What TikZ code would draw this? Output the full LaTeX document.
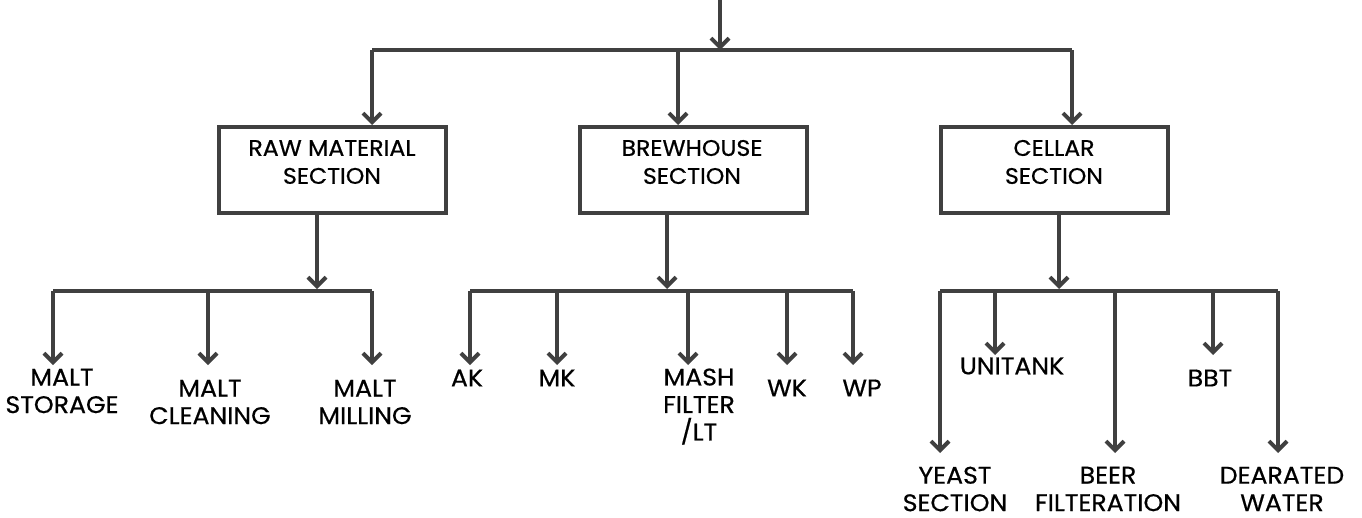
\documentclass[tikz,border=0pt]{standalone}
\usepackage{fontspec}
\setmainfont{Poppins}[FakeStretch=1.05,FakeBold=0.6]
\usetikzlibrary{arrows.meta}
\definecolor{ln}{HTML}{404040}
\tikzset{
  conn/.style={draw=ln,line width=4pt,line cap=butt,line join=miter},
  arr/.style={conn,-{Straight Barb[length=9pt,width=18pt]}},
  secbox/.style={draw=ln,line width=4pt,minimum width=227pt,minimum height=86pt,inner sep=0pt},
  lbl/.style={font=\fontsize{24}{27.5}\selectfont,align=center,inner sep=0pt,text=black},
  boxlbl/.style={lbl,font=\fontsize{22.5}{28}\selectfont},
}
\begin{document}
\begin{tikzpicture}[x=1pt,y=-1pt]
\useasboundingbox (0,0) rectangle (1362,517);
% boxes
\node[secbox] (raw) at (332.5,170) {};
\node[secbox] (brew) at (693,170) {};
\node[secbox] (cell) at (1054,170) {};
\node[boxlbl] (rawt) at (332,162) {RAW MATERIAL\\SECTION};
\node[boxlbl] (brewt) at (692,162) {BREWHOUSE\\SECTION};
\node[boxlbl] (cellt) at (1054,162) {CELLAR\\SECTION};
% top
\coordinate (top) at (720,0);
\coordinate (ta) at (720,50);
\coordinate (tl) at (372,50);
\coordinate (tm) at (678,50);
\coordinate (tr) at (1072,50);
\draw[conn] (tl) -- (tr);
\draw[arr] (top) -- (ta);
\draw[arr] (tl) -- (tl |- raw.north);
\draw[arr] (tm) -- (tm |- brew.north);
\draw[arr] (tr) -- (tr |- cell.north);
% raw group
\coordinate (rs) at (317,0);
\coordinate (rb) at (317,289);
\coordinate (r1) at (53,291);
\coordinate (r2) at (208,291);
\coordinate (r3) at (372,291);
\draw[arr] (rs |- raw.south) -- (rb);
\draw[conn] (r1) -- (r3);
\coordinate (r1e) at (53,365);
\coordinate (r2e) at (208,365);
\coordinate (r3e) at (372,365);
\draw[arr] (r1) -- (r1e);
\draw[arr] (r2) -- (r2e);
\draw[arr] (r3) -- (r3e);
\node[lbl] (ms) at (62,391) {MALT\\STORAGE};
\node[lbl] (mc) at (210,402) {MALT\\CLEANING};
\node[lbl] (mm) at (365,402) {MALT\\MILLING};
% brew group
\coordinate (bs) at (667,0);
\coordinate (bb) at (667,289);
\draw[arr] (bs |- brew.south) -- (bb);
\coordinate (b1) at (470,291);
\coordinate (b2) at (557,291);
\coordinate (b3) at (688,291);
\coordinate (b4) at (787,291);
\coordinate (b5) at (853,291);
\draw[conn] (b1) -- (b5);
\coordinate (b1e) at (470,365);
\coordinate (b2e) at (557,365);
\coordinate (b3e) at (688,365);
\coordinate (b4e) at (787,365);
\coordinate (b5e) at (853,365);
\draw[arr] (b1) -- (b1e);
\draw[arr] (b2) -- (b2e);
\draw[arr] (b3) -- (b3e);
\draw[arr] (b4) -- (b4e);
\draw[arr] (b5) -- (b5e);
\node[lbl] (ak) at (467,378) {AK};
\node[lbl] (mk) at (557,378) {MK};
\node[lbl] (mf) at (699,406.5) {MASH\\FILTER\\/LT};
\node[lbl] (wk) at (787,388) {WK};
\node[lbl] (wp) at (862,388) {WP};
% cellar group
\coordinate (cs) at (1059,0);
\coordinate (cb) at (1059,289);
\draw[arr] (cs |- cell.south) -- (cb);
\coordinate (c1) at (940,291);
\coordinate (c2) at (995,291);
\coordinate (c3) at (1115,291);
\coordinate (c4) at (1213,291);
\coordinate (c5) at (1278,291);
\draw[conn] (c1) -- (c5);
\coordinate (c1e) at (940,453);
\coordinate (c2e) at (995,355);
\coordinate (c3e) at (1115,453);
\coordinate (c4e) at (1213,355);
\coordinate (c5e) at (1278,453);
\draw[arr] (c1) -- (c1e);
\draw[arr] (c2) -- (c2e);
\draw[arr] (c3) -- (c3e);
\draw[arr] (c4) -- (c4e);
\draw[arr] (c5) -- (c5e);
\node[lbl] (un) at (1012,366) {UNITANK};
\node[lbl] (bbt) at (1210,378) {BBT};
\node[lbl] (ys) at (955,489) {YEAST\\SECTION};
\node[lbl] (bf) at (1108,489) {BEER\\FILTERATION};
\node[lbl] (dw) at (1282,489) {DEARATED\\WATER};
\end{tikzpicture}
\end{document}
